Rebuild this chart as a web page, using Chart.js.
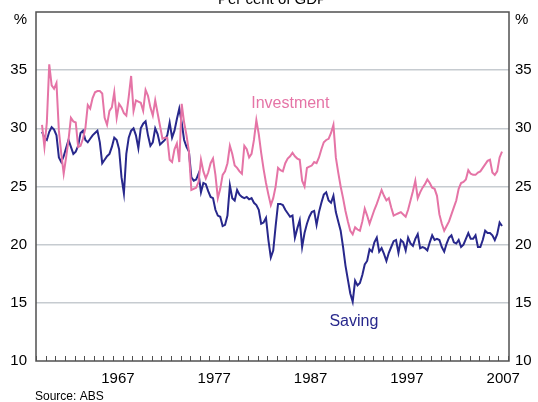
<!DOCTYPE html>
<html>
<head>
<meta charset="utf-8">
<script src="https://cdn.jsdelivr.net/npm/chart.js@4.4.1/dist/chart.umd.min.js"></script>
<style>
  html, body { margin: 0; padding: 0; background: #fff; }
  #wrap { width: 538px; height: 402px; position: relative; }
</style>
</head>
<body>
<div id="wrap"><canvas id="chart" width="538" height="402"></canvas></div>
<script>
// Quarterly data, 1959 Q3 to 2007 Q2, per cent of GDP
const firstQuarter = 1959.5;
const labelYears = [1967, 1977, 1987, 1997, 2007];
const yTicks = [10, 15, 20, 25, 30, 35];

const investment = [
  30.3, 28.4,                 // 1959
  30.5, 35.5, 33.7, 33.4,     // 1960
  33.9, 29.8, 27.8, 26.1,
  27.5, 29.0, 30.9, 30.6,
  30.5, 28.4, 28.5, 29.1,
  30.0, 32.0, 31.7, 32.6,
  33.1, 33.2, 33.2, 33.0,     // 1965
  30.9, 30.3, 31.5, 31.8,
  33.1, 30.9, 32.1, 31.8,
  31.3, 31.1, 32.7, 34.5,
  31.5, 32.4, 32.3, 32.2,
  31.5, 33.3, 32.8, 31.8,     // 1970
  31.1, 32.4, 31.3, 30.2,
  29.1, 29.2, 29.2, 27.3,
  27.1, 28.2, 28.7, 27.1,
  32.1, 30.5, 29.4, 28.0,
  24.7, 24.8, 24.9, 25.4,     // 1975
  27.3, 26.3, 25.7, 26.2,
  27.0, 27.4, 26.0, 24.0,
  24.8, 26.0, 26.3, 27.0,
  28.5, 27.8, 26.8, 26.6,
  26.3, 26.1, 28.5, 28.2,     // 1980
  27.5, 27.8, 29.0, 30.7,
  29.5, 27.9, 26.5, 25.3,
  24.3, 23.4, 24.0, 25.0,
  26.6, 26.4, 26.3, 27.0,
  27.4, 27.6, 27.9, 27.6,     // 1985
  27.4, 27.3, 25.5, 25.0,
  26.6, 26.7, 26.8, 27.1,
  27.0, 27.5, 28.2, 28.8,
  29.0, 29.1, 29.6, 30.3,
  27.5, 26.2, 25.0, 24.0,     // 1990
  22.9, 22.0, 21.2, 20.9,
  21.5, 21.3, 21.2, 22.0,
  23.1, 22.5, 21.8, 22.4,
  23.0, 23.5, 24.1, 24.7,
  24.2, 23.8, 24.0, 23.2,     // 1995
  22.5, 22.6, 22.7, 22.8,
  22.6, 22.4, 23.0, 23.8,
  24.6, 25.5, 24.0, 24.5,
  24.9, 25.2, 25.6, 25.3,
  24.9, 24.8, 24.2, 22.6,     // 2000
  21.8, 21.2, 21.6, 22.0,
  22.6, 23.2, 23.8, 24.8,
  25.3, 25.4, 25.6, 26.4,
  26.1, 26.0, 26.0, 26.2,
  26.3, 26.6, 26.9, 27.2,     // 2005
  27.3, 26.2, 26.0, 26.3,
  27.5, 28.0                  // 2007
];

const saving = [
  29.7, 29.2,                 // 1959
  29.0, 29.7, 30.1, 29.9,     // 1960
  29.4, 27.5, 27.1, 27.6,
  28.3, 29.0, 28.4, 27.8,
  28.0, 28.5, 29.6, 29.8,
  29.0, 28.8, 29.1, 29.4,
  29.6, 29.8, 28.8, 27.0,     // 1965
  27.3, 27.6, 27.8, 28.4,
  29.2, 29.0, 28.2, 25.8,
  24.4, 27.8, 29.2, 29.8,
  30.0, 29.4, 28.3, 30.0,
  30.4, 30.6, 29.4, 28.5,     // 1970
  28.8, 30.0, 29.5, 28.6,
  28.8, 29.0, 29.4, 30.5,
  29.2, 29.8, 30.8, 31.7,
  30.5, 29.0, 28.4, 28.0,
  25.8, 25.5, 25.6, 26.1,     // 1975
  24.5, 25.3, 25.2, 24.6,
  24.1, 24.0, 23.0, 22.5,
  22.4, 21.6, 21.7, 22.5,
  25.1, 24.0, 23.8, 24.7,
  24.3, 24.1, 24.0, 24.1,     // 1980
  23.9, 24.0, 23.6, 23.4,
  23.0, 21.8, 21.9, 22.3,
  20.4, 18.9, 19.5, 21.6,
  23.5, 23.5, 23.4, 23.0,
  22.7, 22.4, 22.5, 20.6,     // 1985
  21.4, 22.1, 19.8, 21.0,
  21.8, 22.4, 22.8, 22.9,
  21.7, 22.8, 23.6, 24.3,
  24.5, 23.8, 23.6, 24.2,
  22.8, 22.0, 21.2, 19.8,     // 1990
  18.2, 17.0, 15.8, 15.1,
  16.9, 16.5, 16.7, 17.4,
  18.3, 18.6, 19.6, 19.4,
  20.2, 20.6, 19.4, 19.7,
  19.2, 18.6, 19.3, 19.8,     // 1995
  20.3, 20.4, 19.3, 20.4,
  20.2, 19.5, 20.6, 20.1,
  19.9, 20.5, 20.9, 19.7,
  19.8, 19.7, 19.5, 20.2,
  20.8, 20.4, 20.5, 20.4,     // 2000
  19.8, 19.4, 20.1, 20.6,
  20.8, 20.2, 20.1, 20.4,
  19.8, 20.0, 20.5, 21.0,
  20.5, 20.5, 20.8, 19.8,
  19.8, 20.4, 21.2, 21.0,     // 2005
  21.0, 20.8, 20.4, 20.9,
  21.9, 21.6                  // 2007
];

const pink = '#e574a6';
const navy = '#28288c';
const axisGrey = '#505050';
const gridGrey = '#c6cbd0';
const font = 'Arial, "Liberation Sans", sans-serif';

// points sit at mid-quarter
function toPoints(values) {
  return values.map((v, i) => ({ x: firstQuarter + 0.125 + i * 0.25, y: v }));
}

// frame, yearly ticks and text labels
const extras = {
  id: 'extras',
  afterDraw(chart) {
    const ctx = chart.ctx;
    const a = chart.chartArea;
    const x = chart.scales.x;
    const y = chart.scales.y;
    ctx.save();
    ctx.strokeStyle = axisGrey;
    ctx.lineWidth = 1.5;
    ctx.strokeRect(a.left, a.top, a.right - a.left, a.bottom - a.top);

    ctx.lineWidth = 1;
    ctx.beginPath();
    for (let yr = Math.ceil(x.min); yr < x.max; yr++) {
      const px = Math.round(x.getPixelForValue(yr)) + 0.5;
      ctx.moveTo(px, a.bottom);
      ctx.lineTo(px, a.bottom - 5);
    }
    ctx.stroke();

    ctx.fillStyle = '#000';
    ctx.font = '15px ' + font;
    ctx.textAlign = 'center';
    ctx.textBaseline = 'alphabetic';
    ctx.fillText('Per cent of GDP', (a.left + a.right) / 2, 4);
    ctx.textBaseline = 'middle';
    ctx.textAlign = 'right';
    ctx.fillText('%', a.left - 9, a.top + 8);
    ctx.textAlign = 'left';
    ctx.fillText('%', a.right + 6, a.top + 8);

    ctx.font = '12px ' + font;
    ctx.textBaseline = 'alphabetic';
    ctx.fillText('Source: ABS', a.left - 1, 400);

    ctx.font = '16px ' + font;
    ctx.textAlign = 'center';
    ctx.textBaseline = 'middle';
    ctx.fillStyle = pink;
    ctx.fillText('Investment', x.getPixelForValue(1985.4), y.getPixelForValue(32.1));
    ctx.fillStyle = navy;
    ctx.fillText('Saving', x.getPixelForValue(1992.0), y.getPixelForValue(13.4));
    ctx.restore();
  }
};

const yTickOpts = {
  color: '#000',
  font: { family: font, size: 15 },
  callback: v => (yTicks.includes(v) ? String(v) : '')
};

// fixed axis widths, no extra room for label overflow
function fixWidth(w) {
  return scale => {
    scale.width = w;
    scale.paddingTop = 0;
    scale.paddingBottom = 0;
  };
}

new Chart(document.getElementById('chart').getContext('2d'), {
  type: 'line',
  data: {
    datasets: [
      {
        label: 'Investment',
        data: toPoints(investment),
        borderColor: pink,
        borderWidth: 2,
        pointRadius: 0,
        tension: 0,
        fill: false
      },
      {
        label: 'Saving',
        data: toPoints(saving),
        borderColor: navy,
        borderWidth: 2,
        pointRadius: 0,
        tension: 0,
        fill: false
      }
    ]
  },
  options: {
    responsive: false,
    animation: false,
    layout: { padding: { top: 12, left: 0, right: 0, bottom: 0 } },
    plugins: {
      legend: { display: false },
      tooltip: { enabled: false }
    },
    scales: {
      x: {
        type: 'linear',
        min: 1959,
        max: 2008.1,
        afterBuildTicks: scale => {
          scale.ticks = labelYears.map(yr => ({ value: yr + 0.5 }));
        },
        afterFit: scale => {
          scale.height = 41;
          scale.paddingLeft = 0;
          scale.paddingRight = 0;
        },
        grid: { display: false, drawTicks: false },
        border: { display: false },
        ticks: {
          autoSkip: false,
          maxRotation: 0,
          padding: 9,
          color: '#000',
          font: { family: font, size: 15 },
          callback: v => String(Math.floor(v))
        }
      },
      y: {
        position: 'left',
        min: 10,
        max: 40,
        afterFit: fixWidth(36),
        grid: {
          color: ctx => (ctx.tick.value > 10 && ctx.tick.value < 40 ? gridGrey : 'rgba(0,0,0,0)'),
          lineWidth: 1.5,
          drawTicks: false
        },
        border: { display: false },
        ticks: Object.assign({ stepSize: 5, padding: 9 }, yTickOpts)
      },
      y2: {
        position: 'right',
        min: 10,
        max: 40,
        afterFit: fixWidth(29),
        grid: { display: false, drawTicks: false },
        border: { display: false },
        ticks: Object.assign({ stepSize: 5, padding: 6 }, yTickOpts)
      }
    }
  },
  plugins: [extras]
});
</script>
</body>
</html>
